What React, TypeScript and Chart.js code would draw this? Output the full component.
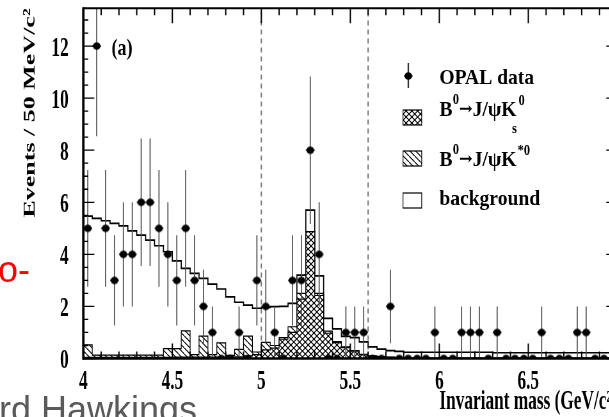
import React, { useEffect, useRef } from "react";
import { Chart, registerables } from "chart.js";

Chart.register(...registerables);

// ---------------- data ----------------
const massMin = 4.0;
const massMax = 7.0;
const binWidth = 0.05; // 50 MeV/c^2 bins
const xTickValues = [4, 4.5, 5, 5.5, 6, 6.5];
const yTickValues = [0, 2, 4, 6, 8, 10, 12];
const yMax = 13.45;
const massWindow = [5.0, 5.6];

const opalCounts = [
  5, 12, 5, 3, 4, 4, 6, 6, 5, 4,
  3, 5, 3, 2, 1, 0, 0, 1, 0, 3,
  2, 1, 0, 3, 3, 8, 4, 0, 0, 1,
  1, 1, 0, 0, 2, 0, 0, 0, 0, 1,
  0, 0, 1, 1, 1, 0, 1, 0, 0, 0,
  0, 1, 0, 0, 0, 1, 1, 0, 0, 0,
];
const opalErrors = [
  2.24, 3.46, 2.24, 1.73, 2, 2, 2.45, 2.45, 2.24, 2,
  1.73, 2.24, 1.73, 1.41, 1, 0, 0, 1, 0, 1.73,
  1.41, 1, 0, 1.73, 1.73, 2.83, 2, 0, 0, 1,
  1, 1, 0, 0, 1.41, 0, 0, 0, 0, 1,
  0, 0, 1, 1, 1, 0, 1, 0, 0, 0,
  0, 1, 0, 0, 0, 1, 1, 0, 0, 0,
];
const ksSignal = [
  0.04, 0.04, 0.04, 0.04, 0.04, 0.04, 0.04, 0.04, 0.04, 0.04,
  0.05, 0.05, 0.05, 0.05, 0.05, 0.05, 0.05, 0.06, 0.1, 0.15,
  0.33, 0.4, 0.74, 1.0, 2.28, 4.87, 2.42, 0.97, 0.61, 0.42,
  0.26, 0.14, 0.08, 0.05, 0.04, 0.02, 0.01, 0.01, 0.01, 0.01,
  0.01, 0.01, 0.01, 0.01, 0.01, 0.01, 0.01, 0.01, 0.01, 0.01,
  0.01, 0.01, 0.01, 0.01, 0.01, 0.01, 0.01, 0.01, 0.01, 0.01,
];
const kstarSignal = [
  0.48, 0.09, 0.09, 0.09, 0.09, 0.09, 0.09, 0.09, 0.09, 0.34,
  0.33, 1.01, 0.1, 0.81, 0.1, 0.55, 0.07, 0.29, 0.76, 0.1,
  0.29, 0.1, 0.06, 0.22, 0.22, 0, 0.08, 0.08, 0.04, 0.03,
  0.04, 0.02, 0.02, 0.02, 0.01, 0.01, 0.01, 0.01, 0.01, 0.01,
  0.01, 0.01, 0.01, 0.01, 0.01, 0.01, 0.01, 0.01, 0.01, 0.01,
  0.01, 0.01, 0.01, 0.01, 0.01, 0.01, 0.01, 0.01, 0.01, 0.01,
];
const background = [
  4.95, 5.25, 5.16, 5.06, 4.96, 4.77, 4.61, 4.42, 4.2, 3.72,
  3.37, 2.4, 3.12, 2.22, 2.71, 2.07, 2.25, 1.81, 1.19, 1.68,
  1.34, 1.49, 1.2, 0.9, 0.7, 0.83, 0.67, 0.49, 0.49, 0.4,
  0.5, 0.48, 0.35, 0.29, 0.25, 0.24, 0.22, 0.22, 0.22, 0.22,
  0.22, 0.22, 0.22, 0.22, 0.22, 0.22, 0.2, 0.2, 0.2, 0.2,
  0.2, 0.2, 0.2, 0.2, 0.2, 0.2, 0.2, 0.2, 0.2, 0.2,
];

const xTitle = "Invariant mass (GeV/c²)";
const yTitle = "Events / 50 MeV/c²";
const panelLabel = "(a)";

// ---------------- layout / style constants ----------------
const SQ = 0.64; // the figure is horizontally squeezed
const CANVAS_W = 1000;
const CANVAS_H = 417;
const SERIF = "'Liberation Serif', 'Times New Roman', Times, serif";

const lowEdges = opalCounts.map((_, i) => +(massMin + binWidth * i).toFixed(3));
const centers = opalCounts.map((_, i) => +(massMin + binWidth * (i + 0.5)).toFixed(3));

function stepData(vals: number[]) {
  const pts = vals.map((v, i) => ({ x: lowEdges[i], y: v }));
  pts.push({ x: massMax, y: vals[vals.length - 1] });
  return pts;
}

function makeTile(w: number, h: number, dirs: number[]) {
  const t = document.createElement("canvas");
  t.width = w;
  t.height = h;
  const c = t.getContext("2d")!;
  c.fillStyle = "#fff";
  c.fillRect(0, 0, w, h);
  c.strokeStyle = "#000";
  c.lineWidth = 1.15;
  for (const d of dirs) {
    for (const off of [-w, 0, w]) {
      c.beginPath();
      if (d > 0) {
        c.moveTo(off, 0);
        c.lineTo(off + w, h);
      } else {
        c.moveTo(off, h);
        c.lineTo(off + w, 0);
      }
      c.stroke();
    }
  }
  return t;
}

function makeDot(dDisp: number) {
  const w = Math.ceil(dDisp / SQ) + 2;
  const h = Math.ceil(dDisp) + 2;
  const t = document.createElement("canvas");
  t.width = w;
  t.height = h;
  const c = t.getContext("2d")!;
  c.fillStyle = "#000";
  c.beginPath();
  c.ellipse(w / 2, h / 2, dDisp / SQ / 2, dDisp / 2, 0, 0, Math.PI * 2);
  c.fill();
  return t;
}

function txt(
  ctx: CanvasRenderingContext2D,
  text: string,
  xd: number,
  yBase: number,
  size: number,
  f: number,
  family: string = SERIF
) {
  ctx.save();
  ctx.font = `bold ${size}px ${family}`;
  ctx.textBaseline = "alphabetic";
  ctx.textAlign = "left";
  ctx.fillStyle = "#000";
  ctx.translate(xd / SQ, yBase);
  ctx.scale(f / SQ, 1);
  ctx.fillText(text, 0, 0);
  const w = ctx.measureText(text).width * f;
  ctx.restore();
  return w;
}

function makeFramePlugin(crossPattern: any, hatchPattern: any, dot: HTMLCanvasElement) {
  return {
    id: "frameTicksLegend",
    afterDatasetsDraw(chart: any) {
      const ctx: CanvasRenderingContext2D = chart.ctx;
      const a = chart.chartArea;
      const xs = chart.scales.x;
      const ys = chart.scales.y;
      ctx.save();
      ctx.strokeStyle = "#000";
      // x ticks (inward), every 0.1, major every 0.5
      ctx.lineWidth = 1.3 / SQ;
      for (let k = 0; k <= 30; k++) {
        const px = xs.getPixelForValue(massMin + k * 0.1);
        const len = k % 5 === 0 ? 15 : 7;
        ctx.beginPath();
        ctx.moveTo(px, a.bottom);
        ctx.lineTo(px, a.bottom - len);
        ctx.moveTo(px, a.top);
        ctx.lineTo(px, a.top + len);
        ctx.stroke();
      }
      // y ticks (inward), every 0.5, major every 2
      ctx.lineWidth = 1.3;
      for (let k = 0; k * 0.5 <= yMax; k++) {
        const py = ys.getPixelForValue(k * 0.5);
        const len = (k % 4 === 0 ? 11 : 5) / SQ;
        ctx.beginPath();
        ctx.moveTo(a.left, py);
        ctx.lineTo(a.left + len, py);
        ctx.moveTo(a.right, py);
        ctx.lineTo(a.right - len, py);
        ctx.stroke();
      }
      // frame
      ctx.lineWidth = 2.6;
      ctx.beginPath();
      ctx.moveTo(a.left, a.bottom);
      ctx.lineTo(a.right, a.bottom);
      ctx.stroke();
      ctx.lineWidth = 2;
      ctx.beginPath();
      ctx.moveTo(a.left, a.top);
      ctx.lineTo(a.right, a.top);
      ctx.stroke();
      ctx.lineWidth = 2.4 / SQ;
      ctx.beginPath();
      ctx.moveTo(a.left, a.top - 1);
      ctx.lineTo(a.left, a.bottom + 1.3);
      ctx.moveTo(a.right, a.top - 1);
      ctx.lineTo(a.right, a.bottom + 1.3);
      ctx.stroke();

      // panel label
      txt(ctx, panelLabel, 111.5, 55, 24, 0.75);

      // legend
      const LF = 0.89;
      const X0 = 439.3;
      const ARROW = "'DejaVu Serif', 'Liberation Serif', serif";
      // row 1: OPAL data
      ctx.lineWidth = 1.5 / SQ;
      ctx.strokeStyle = "#333";
      ctx.beginPath();
      ctx.moveTo(408.3 / SQ, 63);
      ctx.lineTo(408.3 / SQ, 88);
      ctx.stroke();
      ctx.lineWidth = 1.5;
      ctx.beginPath();
      ctx.moveTo(404 / SQ, 76);
      ctx.lineTo(412.6 / SQ, 76);
      ctx.stroke();
      ctx.drawImage(dot, 408.3 / SQ - dot.width / 2, 76 - dot.height / 2);
      txt(ctx, "OPAL data", X0, 83.5, 22, LF);

      const box = (y0: number, fill: any) => {
        ctx.fillStyle = fill;
        ctx.fillRect(403 / SQ, y0, 18.7 / SQ, 15);
        ctx.strokeStyle = "#000";
        ctx.lineWidth = 1.2;
        ctx.strokeRect(403 / SQ, y0, 18.7 / SQ, 15);
      };
      // row 2: B0 -> J/psi K0s
      box(110, crossPattern);
      let x = X0;
      x += txt(ctx, "B", x, 115.5, 22, LF);
      x += txt(ctx, "0", x + 0.5, 103.5, 14, LF) + 0.5;
      x += txt(ctx, "→", x, 113.5, 17, 0.95, ARROW);
      x += txt(ctx, "J/ψK", x, 115.5, 22, LF);
      txt(ctx, "0", x + 2, 104.5, 14, LF);
      txt(ctx, "s", x - 4.5, 132.5, 14, LF);
      // row 3: B0 -> J/psi K*0
      box(151, hatchPattern);
      x = X0;
      x += txt(ctx, "B", x, 165.5, 22, LF);
      x += txt(ctx, "0", x + 0.5, 153.5, 14, LF) + 0.5;
      x += txt(ctx, "→", x, 163.5, 17, 0.95, ARROW);
      x += txt(ctx, "J/ψK", x, 165.5, 22, LF);
      txt(ctx, "*0", x + 1, 155, 14, LF);
      // row 4: background
      box(193, "#fff");
      txt(ctx, "background", X0, 205, 22, LF);
      ctx.restore();
    },
  };
}

export default function App() {
  const ref = useRef<HTMLCanvasElement>(null);

  useEffect(() => {
    const canvas = ref.current!;
    const ctx = canvas.getContext("2d")!;
    const crossPattern = ctx.createPattern(makeTile(9, 6, [1, -1]), "repeat");
    const hatchPattern = ctx.createPattern(makeTile(9, 6, [1]), "repeat");
    const dot = makeDot(7.5);

    const cumKs = ksSignal;
    const cumHatch = ksSignal.map((v, i) => v + kstarSignal[i]);
    const cumTotal = cumHatch.map((v, i) => v + background[i]);

    const errData: { x: number; y: number | null }[] = [];
    opalCounts.forEach((n, i) => {
      if (n > 0) {
        const c = centers[i];
        errData.push({ x: c, y: n - opalErrors[i] }, { x: c, y: n + opalErrors[i] }, { x: c, y: null });
        errData.push({ x: c - binWidth / 2, y: n }, { x: c + binWidth / 2, y: n }, { x: c, y: null });
      }
    });
    const cutData: { x: number; y: number | null }[] = [];
    massWindow.forEach((m) => {
      cutData.push({ x: m, y: 0 }, { x: m, y: yMax }, { x: m, y: null });
    });

    const tickFont = { family: SERIF, size: 27, weight: "bold" as const };

    const chart = new Chart(canvas, {
      type: "line",
      data: {
        datasets: [
          {
            label: "OPAL data",
            data: centers.map((c, i) => ({ x: c, y: opalCounts[i] })),
            showLine: false,
            pointStyle: dot as any,
            pointRadius: 3,
            order: 0,
          },
          {
            label: "errors",
            data: errData as any,
            borderColor: "#555",
            borderWidth: 1.8,
            pointRadius: 0,
            spanGaps: false,
            fill: false,
            order: 1,
          },
          {
            label: "B0→J/ψK0s",
            data: stepData(cumKs),
            stepped: true,
            borderColor: "#000",
            borderWidth: 1.2,
            backgroundColor: crossPattern as any,
            fill: "origin",
            pointRadius: 0,
            order: 2,
          },
          {
            label: "B0→J/ψK*0",
            data: stepData(cumHatch),
            stepped: true,
            borderColor: "#000",
            borderWidth: 1.2,
            backgroundColor: hatchPattern as any,
            fill: "origin",
            pointRadius: 0,
            order: 3,
          },
          {
            label: "background",
            data: stepData(cumTotal),
            stepped: true,
            borderColor: "#000",
            borderWidth: 1.7,
            fill: false,
            pointRadius: 0,
            order: 4,
          },
          {
            label: "window",
            data: cutData as any,
            borderColor: "#777",
            borderWidth: 2,
            borderDash: [5, 4],
            pointRadius: 0,
            spanGaps: false,
            fill: false,
            order: 5,
          },
        ],
      },
      options: {
        animation: false,
        responsive: false,
        devicePixelRatio: 1,
        events: [],
        layout: { padding: { top: 8.3, right: 35.5, left: 0, bottom: 0 } },
        plugins: { legend: { display: false }, tooltip: { enabled: false } },
        scales: {
          x: {
            type: "linear",
            min: massMin,
            max: massMax,
            grid: { display: false },
            border: { display: false },
            afterBuildTicks: (s: any) => {
              s.ticks = xTickValues.map((v) => ({ value: v }));
            },
            afterFit: (s: any) => {
              s.height = 58.5;
              s.paddingLeft = 0;
              s.paddingRight = 0;
              s.paddingTop = 0;
              s.paddingBottom = 0;
            },
            ticks: {
              font: tickFont,
              color: "#000",
              padding: -1,
              maxRotation: 0,
              autoSkip: false,
              callback: (v: any) => String(v),
            },
            title: {
              display: true,
              text: xTitle,
              align: "end",
              color: "#000",
              font: { family: SERIF, size: 27, weight: "bold" },
              padding: { top: 0, bottom: -1 },
            },
          },
          y: {
            type: "linear",
            min: 0,
            max: yMax,
            grid: { display: false },
            border: { display: false },
            afterBuildTicks: (s: any) => {
              s.ticks = yTickValues.map((v) => ({ value: v }));
            },
            afterFit: (s: any) => {
              s.width = 130.2;
              s.paddingTop = 0;
              s.paddingBottom = 0;
              s.paddingLeft = 0;
              s.paddingRight = 0;
            },
            ticks: {
              font: tickFont,
              color: "#000",
              padding: 15,
              labelOffset: 3,
              callback: (v: any) => String(v),
            },
            title: {
              display: true,
              text: yTitle,
              align: "end",
              color: "#000",
              font: { family: SERIF, size: 26, weight: "bold" },
              padding: { top: 32, bottom: 0 },
            },
          },
        },
      } as any,
      plugins: [makeFramePlugin(crossPattern, hatchPattern, dot)],
    });
    return () => chart.destroy();
  }, []);

  return (
    <div
      style={{
        position: "fixed",
        left: 0,
        top: 0,
        width: 609,
        height: 417,
        overflow: "hidden",
        background: "#fff",
      }}
    >
      <canvas
        ref={ref}
        width={CANVAS_W}
        height={CANVAS_H}
        style={{ position: "absolute", left: 0, top: 0, width: CANVAS_W * SQ, height: CANVAS_H }}
      />
      <div
        style={{
          position: "absolute",
          left: -2,
          top: 251.5,
          font: "36px 'Liberation Sans', Arial, sans-serif",
          lineHeight: "36px",
          color: "#ff0000",
          whiteSpace: "nowrap",
        }}
      >
        o-
      </div>
      <div
        style={{
          position: "absolute",
          left: -1,
          top: 392,
          font: "36px 'Liberation Sans', Arial, sans-serif",
          lineHeight: "36px",
          color: "#5a5a5a",
          whiteSpace: "nowrap",
        }}
      >
        rd Hawkings
      </div>
    </div>
  );
}
